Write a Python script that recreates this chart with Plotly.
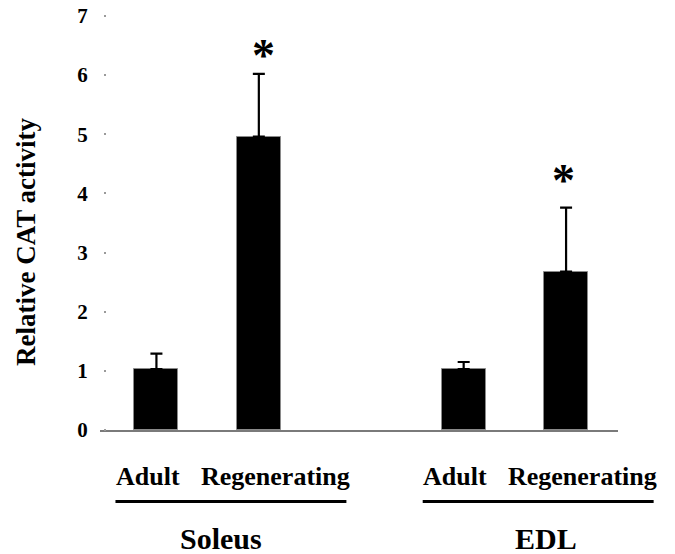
import plotly.graph_objects as go

# ---- data ----
groups = ["Soleus", "EDL"]
conditions = ["Adult", "Regenerating"]
bar_pos = [0, 1, 3, 4]
bar_values = [1.03, 4.96, 1.03, 2.68]
bar_errors = [0.26, 1.06, 0.12, 1.08]
significant = [False, True, False, True]
asterisk_y = [None, 6.49, None, 4.37]
y_ticks = [0, 1, 2, 3, 4, 5, 6, 7]

FONT = "Liberation Serif"
X_RANGE = [-0.551, 4.507]
Y_RANGE = [0, 7]

def xp(x):
    return (x - X_RANGE[0]) / (X_RANGE[1] - X_RANGE[0])

fig = go.Figure()
fig.add_trace(go.Bar(
    x=bar_pos, y=bar_values, width=0.43,
    marker=dict(color="black", line=dict(color="#8a8a8a", width=1)),
    error_y=dict(type="data", symmetric=False, array=bar_errors,
                 arrayminus=[0] * len(bar_errors),
                 color="black", thickness=2.2, width=6),
    showlegend=False,
))

annotations = []
# significance asterisks
ast_dx = [0, 0.05, 0, -0.03]
for x, ay, s, dx in zip(bar_pos, asterisk_y, significant, ast_dx):
    if s:
        annotations.append(dict(x=x + dx, y=ay, xref="x", yref="y",
                                text="*", showarrow=False,
                                yanchor="middle", yshift=-9,
                                font=dict(family=FONT, size=46, color="black",
                                          weight="bold")))
# condition labels
label_off = [-0.08, 0.16]
for gi, g in enumerate(groups):
    for ci, c in enumerate(conditions):
        x = bar_pos[gi * 2 + ci] + label_off[ci]
        annotations.append(dict(x=x, y=-0.113, xref="x", yref="paper",
                                text=c, showarrow=False,
                                xanchor="center", yanchor="middle",
                                font=dict(family=FONT, size=26, color="black",
                                          weight="bold")))
# group labels and underlines
shapes = []
group_label_off = [0.63, 0.80]
for gi, g in enumerate(groups):
    x0 = bar_pos[gi * 2] - 0.40
    x1 = bar_pos[gi * 2 + 1] + 0.855
    shapes.append(dict(type="line", xref="paper", yref="paper",
                       x0=xp(x0), x1=xp(x1), y0=-0.1727, y1=-0.1727,
                       line=dict(color="black", width=3)))
    annotations.append(dict(x=bar_pos[gi * 2] + group_label_off[gi], y=-0.262,
                            xref="x", yref="paper",
                            text=g, showarrow=False,
                            xanchor="center", yanchor="middle",
                            font=dict(family=FONT, size=30, color="black",
                                      weight="bold")))
# y-axis title
annotations.append(dict(x=-0.143, y=0.454, xref="paper", yref="paper",
                        text="Relative CAT activity", showarrow=False,
                        textangle=-90, xanchor="center", yanchor="middle",
                        font=dict(family=FONT, size=27, color="black",
                                  weight="bold")))

fig.update_layout(
    width=675, height=554,
    margin=dict(l=100, r=57, t=16, b=124, autoexpand=False),
    plot_bgcolor="white", paper_bgcolor="white",
    xaxis=dict(range=X_RANGE, showticklabels=False, ticks="",
               showgrid=False, zeroline=False, automargin=False,
               showline=True, linecolor="#7a7a7a", linewidth=2),
    yaxis=dict(range=Y_RANGE, tickvals=y_ticks, showgrid=False,
               zeroline=False, showline=False, automargin=False,
               anchor="free", position=0.0116,
               ticks="outside", ticklen=2, tickwidth=2, tickcolor="#9a9a9a",
               ticklabelstandoff=12,
               tickfont=dict(family=FONT, size=21, color="black",
                             weight="bold")),
    annotations=annotations,
    shapes=shapes,
    bargap=0,
)

fig.write_html("out.html", config={"displayModeBar": False},
               post_script="document.body.style.margin='0';")
